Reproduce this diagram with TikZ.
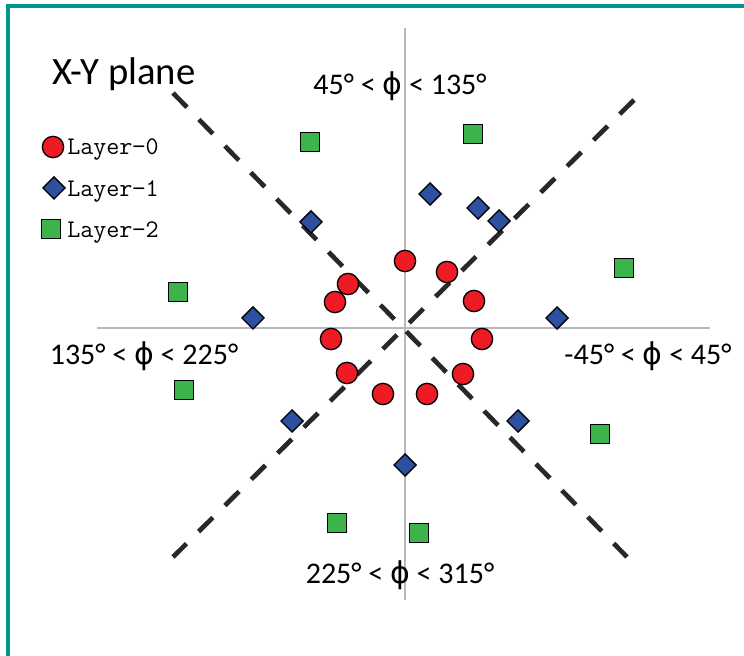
\documentclass[tikz,border=0pt]{standalone}
\usepackage{fontspec}
\setmainfont{Carlito}
\newfontfamily\phifont{DejaVu Sans}
\usetikzlibrary{shapes.geometric}
\definecolor{FrameTeal}{RGB}{0,150,143}
\definecolor{MarkRed}{RGB}{237,28,36}
\definecolor{MarkBlue}{RGB}{46,80,160}
\definecolor{MarkGreen}{RGB}{60,180,75}
\definecolor{AxisGray}{RGB}{185,185,185}
\definecolor{DashGray}{RGB}{40,40,40}
\newcommand{\phisym}{{\phifont ϕ}}

\begin{document}
\begin{tikzpicture}[x=0.75pt, y=-0.75pt,
    axis/.style={draw=AxisGray, line width=1.1pt},
    cut/.style={draw=DashGray, line width=3.5pt, dash pattern=on 15pt off 12.8pt},
    lay0/.style={circle, draw=black, line width=1pt, fill=MarkRed, minimum size=16pt, inner sep=0pt},
    lay1/.style={diamond, draw=black, line width=1pt, fill=MarkBlue, minimum size=17pt, inner sep=0pt},
    lay2/.style={rectangle, draw=black, line width=1pt, fill=MarkGreen, minimum size=14pt, inner sep=0pt},
    ang/.style={font=\fontsize{22.5}{26}\selectfont, anchor=base, inner sep=0pt},
    leg/.style={font=\ttfamily\fontsize{19}{22}\selectfont, anchor=base west, inner sep=0pt}
]
\useasboundingbox (0,0) rectangle (744,656);
% frame
\fill[FrameTeal] (6,4) rectangle (744,8);
\fill[FrameTeal] (6,4) rectangle (10,656);

% axes
\coordinate (vtop) at (405,28);
\coordinate (vbot) at (405,600);
\coordinate (hleft) at (97,328);
\coordinate (hright) at (710,328);
\draw[axis] (vtop) -- (vbot);
\draw[axis] (hleft) -- (hright);

% sector boundaries
\coordinate (d1a) at (173,93);
\coordinate (d1b) at (627,557);
\coordinate (d2a) at (634,100);
\coordinate (d2b) at (173,557);
\draw[cut] (d1a) -- (d1b);
\draw[cut] (d2a) -- (d2b);

% labels
\node[font=\fontsize{29}{32}\selectfont, anchor=base west, inner sep=0pt] (title) at (52,85) {X-Y plane};
\node[ang] (top) at (400,95) {45° < \phisym{} < 135°};
\node[ang] (left) at (144,365) {135° < \phisym{} < 225°};
\node[ang] (right) at (648,365) {-45° < \phisym{} < 45°};
\node[ang] (bottom) at (400,584) {225° < \phisym{} < 315°};

% legend
\node[lay0] (k0) at (53,147) {};
\node[lay1] (k1) at (54,188) {};
\node[lay2] (k2) at (51,229) {};
\node[leg] (t0) at (67,155) {Layer−0};
\node[leg] (t1) at (67,197) {Layer−1};
\node[leg] (t2) at (67,238) {Layer−2};

% hits
\foreach \px/\py [count=\i] in {405/261, 447/272, 348/284, 335/302, 474/301, 331/339, 482/339, 347/373, 463/374, 383/394, 427/394}
    \node[lay0] (r\i) at (\px,\py) {};
\foreach \px/\py [count=\i] in {430/194, 478/208, 499/221, 311/222, 253/318, 557/318, 292/421, 518/421, 405/465}
    \node[lay1] (b\i) at (\px,\py) {};
\foreach \px/\py [count=\i] in {310/142, 473/134, 624/268, 178/292, 184/390, 600/434, 337/523, 419/533}
    \node[lay2] (g\i) at (\px,\py) {};
\end{tikzpicture}
\end{document}
